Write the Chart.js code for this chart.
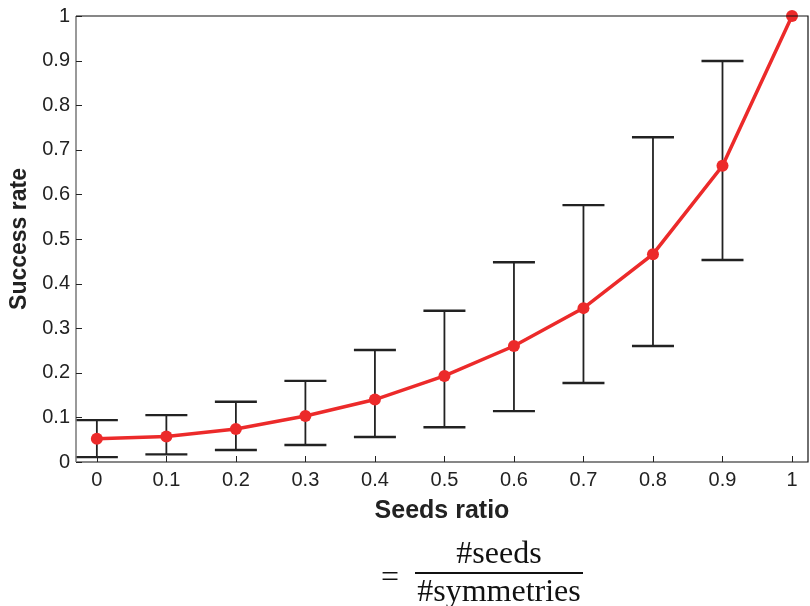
<!DOCTYPE html>
<html>
<head>
<meta charset="utf-8">
<script src="https://cdn.jsdelivr.net/npm/chart.js@4.4.1/dist/chart.umd.min.js"></script>
<style>
  html, body { margin: 0; padding: 0; background: #fff; }
  #wrap { position: relative; width: 810px; height: 606px; overflow: hidden; }
  #c { position: absolute; left: 0; top: 0; }
  .math { position: absolute; font-family: "Liberation Serif", "DejaVu Serif", serif; color: #111; white-space: nowrap; font-size: 32px; line-height: 32px; }
  #eq { left: 381px; top: 560px; }
  #num { left: 415px; top: 536px; width: 168px; text-align: center; }
  #bar { position: absolute; left: 415px; top: 572px; width: 168px; height: 1.5px; background: #111; }
  #den { left: 415px; top: 574px; width: 168px; text-align: center; }
</style>
</head>
<body>
<div id="wrap">
  <canvas id="c" width="810" height="606"></canvas>
  <div class="math" id="eq">=</div>
  <div class="math" id="num">#seeds</div>
  <div id="bar"></div>
  <div class="math" id="den">#symmetries</div>
</div>
<script>
// ---- data ----
const seedsRatio = [0, 0.1, 0.2, 0.3, 0.4, 0.5, 0.6, 0.7, 0.8, 0.9, 1.0];
const successRate = [0.052, 0.057, 0.074, 0.103, 0.140, 0.193, 0.260, 0.345, 0.466, 0.664, 1.0];
const errUpper = [0.094, 0.105, 0.135, 0.182, 0.251, 0.339, 0.448, 0.576, 0.728, 0.899, 1.0];
const errLower = [0.011, 0.017, 0.027, 0.038, 0.056, 0.078, 0.114, 0.177, 0.260, 0.453, 1.0];
const xTickValues = [0, 0.1, 0.2, 0.3, 0.4, 0.5, 0.6, 0.7, 0.8, 0.9, 1];
const yTickValues = [0, 0.1, 0.2, 0.3, 0.4, 0.5, 0.6, 0.7, 0.8, 0.9, 1];
const xTitle = 'Seeds ratio';
const yTitle = 'Success rate';

const FONT = '"Liberation Sans", Arial, Helvetica, sans-serif';

const errorBarPlugin = {
  id: 'errorBars',
  beforeDatasetsDraw(chart) {
    const {ctx, scales: {x, y}} = chart;
    ctx.save();
    ctx.strokeStyle = '#222';
    const capHalf = 21;
    for (let i = 0; i < seedsRatio.length; i++) {
      if (errUpper[i] === errLower[i]) continue;
      const px = x.getPixelForValue(seedsRatio[i]);
      const pt = y.getPixelForValue(errUpper[i]);
      const pb = y.getPixelForValue(errLower[i]);
      ctx.lineWidth = 1.8;
      ctx.beginPath();
      ctx.moveTo(px, pt); ctx.lineTo(px, pb);
      ctx.stroke();
      ctx.lineWidth = 2.4;
      ctx.beginPath();
      ctx.moveTo(px - capHalf, pt); ctx.lineTo(px + capHalf, pt);
      ctx.moveTo(px - capHalf, pb); ctx.lineTo(px + capHalf, pb);
      ctx.stroke();
    }
    ctx.restore();
  }
};

const framePlugin = {
  id: 'frame',
  afterDraw(chart) {
    const {ctx, chartArea: a, scales: {x, y}} = chart;
    ctx.save();
    ctx.lineWidth = 1.2;
    ctx.strokeStyle = '#111';
    ctx.beginPath();
    ctx.moveTo(a.left, a.top); ctx.lineTo(a.right, a.top);
    ctx.lineTo(a.right, a.bottom); ctx.lineTo(a.left, a.bottom);
    ctx.stroke();
    ctx.strokeStyle = '#777';
    ctx.lineWidth = 1.5;
    ctx.beginPath();
    ctx.moveTo(a.left, a.top); ctx.lineTo(a.left, a.bottom);
    ctx.stroke();
    ctx.strokeStyle = '#222';
    ctx.lineWidth = 1;
    ctx.beginPath();
    for (const v of xTickValues) {
      const px = Math.round(x.getPixelForValue(v)) + 0.5;
      ctx.moveTo(px, a.bottom); ctx.lineTo(px, a.bottom - 6);
    }
    for (const v of yTickValues) {
      const py = Math.round(y.getPixelForValue(v)) + 0.5;
      ctx.moveTo(a.left, py); ctx.lineTo(a.left + 6, py);
    }
    ctx.stroke();
    ctx.restore();
  }
};

new Chart(document.getElementById('c'), {
  type: 'line',
  data: {
    datasets: [{
      data: seedsRatio.map((v, i) => ({x: v, y: successRate[i]})),
      borderColor: '#ec2a2a',
      backgroundColor: '#ec2a2a',
      borderWidth: 3.5,
      pointRadius: 6,
      pointHoverRadius: 6,
      pointBorderWidth: 0,
      tension: 0,
      clip: false
    }]
  },
  options: {
    responsive: false,
    animation: false,
    events: [],
    layout: { autoPadding: false, padding: { left: 6, right: 2, top: 16, bottom: 70 } },
    plugins: { legend: { display: false }, tooltip: { enabled: false } },
    scales: {
      x: {
        type: 'linear',
        min: -0.03,
        max: 1.023,
        afterBuildTicks: (s) => { s.ticks = xTickValues.map(v => ({value: v})); },
        afterFit: (s) => { s.height = 74; s.paddingLeft = 0; s.paddingRight = 0; },
        grid: { display: false, drawTicks: false },
        border: { display: false },
        ticks: {
          padding: 6,
          color: '#222',
          font: { family: FONT, size: 20 },
          callback: (v) => String(v)
        },
        title: {
          display: true,
          text: xTitle,
          color: '#222',
          font: { family: FONT, size: 25, weight: 'bold' },
          padding: { top: 8, bottom: 10 }
        }
      },
      y: {
        type: 'linear',
        min: 0,
        max: 1,
        afterBuildTicks: (s) => { s.ticks = yTickValues.map(v => ({value: v})); },
        afterFit: (s) => { s.width = 70; s.paddingTop = 0; s.paddingBottom = 0; },
        grid: { display: false, drawTicks: false },
        border: { display: false },
        ticks: {
          padding: 6,
          color: '#222',
          font: { family: FONT, size: 20 },
          callback: (v) => String(v)
        },
        title: {
          display: true,
          text: yTitle,
          color: '#222',
          font: { family: FONT, size: 23, weight: 'bold' },
          padding: 0
        }
      }
    }
  },
  plugins: [errorBarPlugin, framePlugin]
});
</script>
</body>
</html>
